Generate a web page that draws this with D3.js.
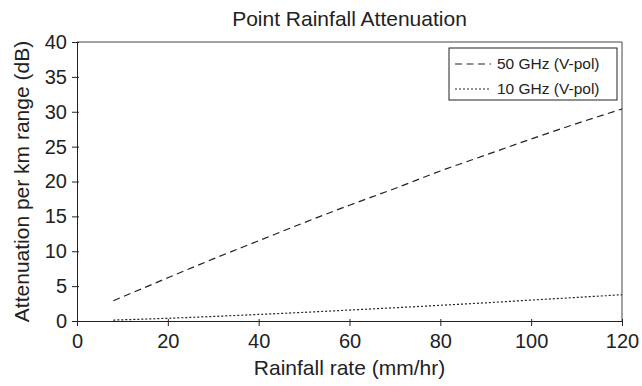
<!DOCTYPE html>
<html>
<head>
<meta charset="utf-8">
<script src="https://cdn.jsdelivr.net/npm/d3@7"></script>
<style>
  body { margin: 0; background: #fff; }
  text { font-family: "Liberation Sans", Arial, sans-serif; fill: #222; }
</style>
</head>
<body>
<div id="chart"></div>
<script>
// rainfall rate (mm/hr)
const rainRate = [8, 10, 20, 30, 40, 50, 60, 70, 80, 90, 100, 110, 120];
// attenuation per km (dB)
const atten50 = [2.9, 3.45, 6.2, 8.9, 11.5, 14.1, 16.6, 19.0, 21.5, 23.8, 26.1, 28.3, 30.4];
const atten10 = [0.13, 0.17, 0.39, 0.65, 0.94, 1.24, 1.57, 1.90, 2.25, 2.61, 3.0, 3.38, 3.77];
const seriesNames = ['50 GHz (V-pol)', '10 GHz (V-pol)'];
const xTicks = [0, 20, 40, 60, 80, 100, 120];
const yTicks = [0, 5, 10, 15, 20, 25, 30, 35, 40];

const width = 642, height = 386;
const margin = { top: 42, right: 20, bottom: 65, left: 77 };
const iw = width - margin.left - margin.right;
const ih = height - margin.top - margin.bottom;

const svg = d3.select('#chart').append('svg')
    .attr('width', width)
    .attr('height', height);

const g = svg.append('g')
    .attr('transform', `translate(${margin.left},${margin.top})`);

const x = d3.scaleLinear().domain([0, 120]).range([0, iw]);
const y = d3.scaleLinear().domain([0, 40]).range([ih, 0]);

// frame (top and right)
g.append('path')
    .attr('d', `M0,0H${iw}V${ih}`)
    .attr('fill', 'none')
    .attr('stroke', '#444')
    .attr('stroke-width', 1);

// axes
const xAxis = g.append('g')
    .attr('transform', `translate(0,${ih})`)
    .call(d3.axisBottom(x).tickValues(xTicks).tickSize(5).tickSizeOuter(0));
const yAxis = g.append('g')
    .call(d3.axisLeft(y).tickValues(yTicks).tickSize(5).tickSizeOuter(0));

[xAxis, yAxis].forEach(a => {
    a.selectAll('path, line').attr('stroke', '#222');
    a.selectAll('text')
        .style('font-size', '20px')
        .style('font-family', '"Liberation Sans", Arial, sans-serif')
        .attr('fill', '#222');
});
xAxis.selectAll('text').attr('y', 20).attr('dy', '0.35em');
yAxis.selectAll('text').attr('x', -10);

// small inner tick stubs
xAxis.selectAll('.tick').append('line').attr('y2', -2).attr('stroke', '#222');
yAxis.selectAll('.tick').append('line').attr('x2', 2).attr('stroke', '#222');

// lines
const line = d3.line()
    .x(d => x(d[0]))
    .y(d => y(d[1]))
    .curve(d3.curveMonotoneX);

const dashes = ['7,4.5', '2,2'];
[atten50, atten10].forEach((vals, i) => {
    g.append('path')
        .datum(rainRate.map((r, j) => [r, vals[j]]))
        .attr('d', line)
        .attr('fill', 'none')
        .attr('stroke', '#222')
        .attr('stroke-width', 1.2)
        .attr('stroke-dasharray', dashes[i]);
});

// legend
const lg = svg.append('g').attr('transform', 'translate(449,48)');
lg.append('rect')
    .attr('width', 168).attr('height', 52)
    .attr('fill', '#fff')
    .attr('stroke', '#222')
    .attr('stroke-width', 1);
seriesNames.forEach((name, i) => {
    const ly = 16 + i * 25;
    lg.append('line')
        .attr('x1', 6).attr('x2', 42)
        .attr('y1', ly).attr('y2', ly)
        .attr('stroke', '#222')
        .attr('stroke-width', 1.2)
        .attr('stroke-dasharray', dashes[i]);
    lg.append('text')
        .attr('x', 48).attr('y', ly)
        .attr('dy', '0.35em')
        .style('font-size', '15.5px')
        .text(name);
});

// title and axis labels
svg.append('text')
    .attr('x', margin.left + iw / 2).attr('y', 19)
    .attr('dy', '0.35em')
    .attr('text-anchor', 'middle')
    .style('font-size', '21px')
    .text('Point Rainfall Attenuation');

svg.append('text')
    .attr('x', margin.left + iw / 2).attr('y', 368)
    .attr('dy', '0.35em')
    .attr('text-anchor', 'middle')
    .style('font-size', '21px')
    .text('Rainfall rate (mm/hr)');

svg.append('text')
    .attr('transform', `translate(22,${margin.top + ih / 2}) rotate(-90)`)
    .attr('dy', '0.35em')
    .attr('text-anchor', 'middle')
    .style('font-size', '21px')
    .text('Attenuation per km range (dB)');
</script>
</body>
</html>
